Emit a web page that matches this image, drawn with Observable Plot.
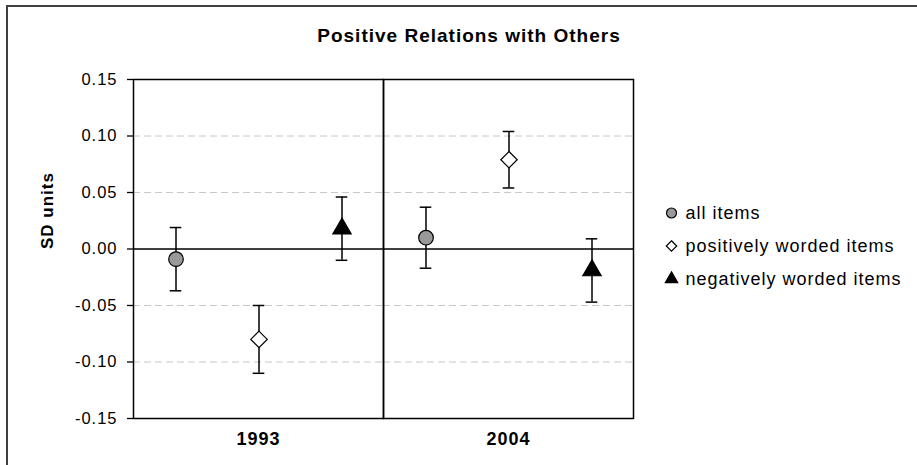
<!DOCTYPE html>
<html>
<head>
<meta charset="utf-8">
<script src="https://cdn.jsdelivr.net/npm/d3@7"></script>
<script src="https://cdn.jsdelivr.net/npm/@observablehq/plot@0.6"></script>
<style>
  html, body { margin: 0; padding: 0; background: #fff; overflow: hidden; }
  #wrap { position: relative; width: 917px; height: 465px; overflow: hidden; font-family: Arial, "Liberation Sans", sans-serif; }
  #border { position: absolute; left: 6px; top: 5px; width: 1000px; height: 1000px; border-left: 2px solid #404040; border-top: 2px solid #404040; }
  #title { position: absolute; left: 469px; top: 25px; transform: translateX(-50%); font-size: 19px; font-weight: bold; letter-spacing: 1px; white-space: nowrap; line-height: normal; color: #000; }
  #chart { position: absolute; left: 0; top: 0; }
  #legend { position: absolute; left: 663px; top: 195.5px; }
</style>
</head>
<body>
<div id="wrap">
  <div id="border"></div>
  <div id="chart"></div>
  <div id="title">Positive Relations with Others</div>
  <div id="legend"></div>
</div>
<script>
// ---- data ----
const years = ["1993", "2004"];
const series = ["all items", "positively worded items", "negatively worded items"];
const means1993 = [-0.009, -0.080, 0.018];
const means2004 = [0.010, 0.079, -0.019];
const errors1993 = [0.028, 0.030, 0.028];
const errors2004 = [0.027, 0.025, 0.028];
const yTicks = [-0.15, -0.10, -0.05, 0, 0.05, 0.10, 0.15];
const gridTicks = [-0.10, -0.05, 0.05, 0.10];
const yLabel = "SD units";

// ---- styles ----
const symbolOf = {"all items": "circle", "positively worded items": "diamond2", "negatively worded items": "triangle"};
const fillOf = {"all items": "#999999", "positively worded items": "#ffffff", "negatively worded items": "#000000"};
const rOf = {"all items": 7.3, "positively worded items": 7.4, "negatively worded items": 6.8};
const rLegend = {"all items": 5, "positively worded items": 4.7, "negatively worded items": 4.6};

const meansBy = [means1993, means2004];
const errorsBy = [errors1993, errors2004];
const rows = years.flatMap((yr, i) => series.map((s, j) => ({
  year: yr, series: s, mean: meansBy[i][j], err: errorsBy[i][j]
})));

const chart = Plot.plot({
  width: 917, height: 465,
  marginLeft: 133, marginRight: 284, marginTop: 79, marginBottom: 47,
  style: {fontFamily: 'Arial, "Liberation Sans", sans-serif', fontSize: "16.5px", color: "#000", background: "transparent", letterSpacing: "1px", overflow: "visible"},
  fx: {domain: years, padding: 0, label: null, axis: null},
  x: {domain: series, padding: 0, axis: null},
  y: {domain: [-0.15, 0.15], axis: null},
  symbol: {domain: series, range: series.map(s => symbolOf[s])},
  r: {type: "identity"},
  marks: [
    Plot.gridY(gridTicks, {stroke: "#c8c8c8", strokeOpacity: 1, strokeDasharray: "7,4"}),
    Plot.ruleY([0], {stroke: "#000", strokeWidth: 1.4}),
    Plot.frame({stroke: "#000", strokeWidth: 1.5}),
    Plot.ruleX(rows, {fx: "year", x: "series", y1: d => d.mean - d.err, y2: d => d.mean + d.err, stroke: "#000", strokeWidth: 1.5}),
    Plot.tickY(rows, {fx: "year", x: "series", y: d => d.mean - d.err, insetLeft: 35.7, insetRight: 35.7, stroke: "#000", strokeWidth: 1.5}),
    Plot.tickY(rows, {fx: "year", x: "series", y: d => d.mean + d.err, insetLeft: 35.7, insetRight: 35.7, stroke: "#000", strokeWidth: 1.5}),
    Plot.dot(rows, {fx: "year", x: "series", y: "mean", symbol: "series", fill: d => fillOf[d.series], stroke: "#000", strokeWidth: 1.2, r: d => rOf[d.series]}),
    Plot.axisY({ticks: yTicks, tickFormat: d => d.toFixed(2), tickSize: 6, tickPadding: 10, label: null, stroke: "#000", strokeWidth: 1.3}),
    Plot.axisFx({anchor: "bottom", tickSize: 0, tickPadding: 14, label: null, fontWeight: "bold", fontSize: 18}),
    Plot.text([{year: years[0]}], {fx: "year", frameAnchor: "left", text: () => yLabel, rotate: -90, dx: -86, fontWeight: "bold", fontSize: 17})
  ]
});
document.getElementById("chart").append(chart);

const legend = Plot.plot({
  width: 250, height: 99,
  margin: 0,
  style: {fontFamily: 'Arial, "Liberation Sans", sans-serif', fontSize: "18px", color: "#000", background: "transparent", letterSpacing: "1px", overflow: "visible"},
  x: {axis: null, domain: [0, 1]},
  y: {type: "band", domain: series, padding: 0, axis: null},
  symbol: {domain: series, range: series.map(s => symbolOf[s])},
  r: {type: "identity"},
  marks: [
    Plot.dot(series, {y: d => d, frameAnchor: "left", dx: 8, symbol: d => d, fill: d => fillOf[d], stroke: "#000", strokeWidth: 1.2, r: d => rLegend[d]}),
    Plot.text(series, {y: d => d, frameAnchor: "left", dx: 22, text: d => d, textAnchor: "start"})
  ]
});
document.getElementById("legend").append(legend);
</script>
</body>
</html>
